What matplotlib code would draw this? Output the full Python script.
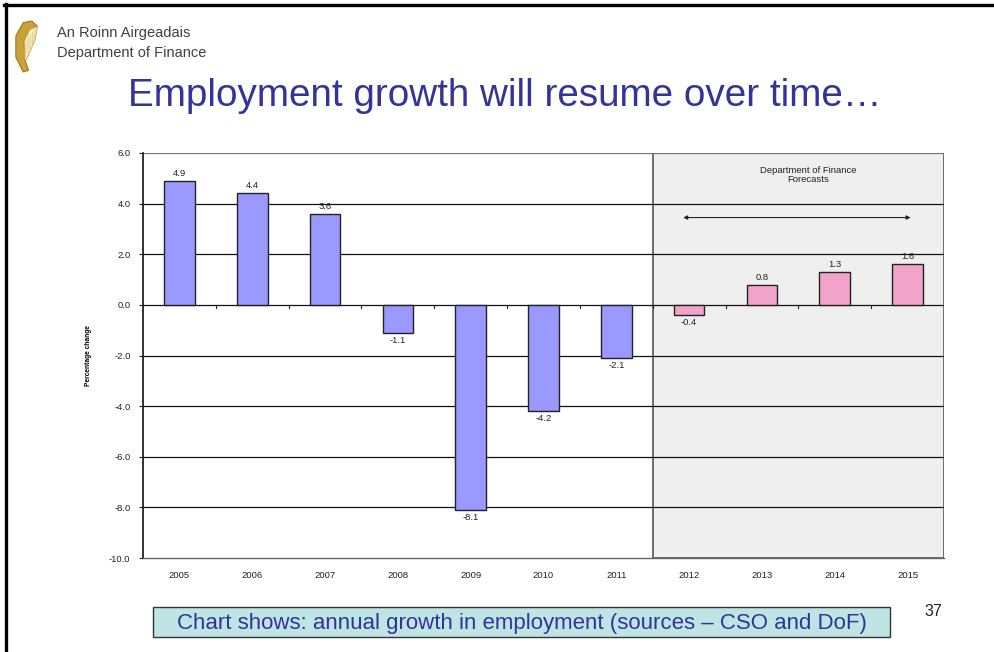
import matplotlib
matplotlib.use("Agg")
import matplotlib.pyplot as plt
from matplotlib.patches import Rectangle, FancyBboxPatch, Polygon
from matplotlib.lines import Line2D

years = ["2005", "2006", "2007", "2008", "2009", "2010", "2011",
         "2012", "2013", "2014", "2015"]
growth = [4.9, 4.4, 3.6, -1.1, -8.1, -4.2, -2.1, -0.4, 0.8, 1.3, 1.6]
is_forecast = [False] * 7 + [True] * 4
y_ticks = [6.0, 4.0, 2.0, 0.0, -2.0, -4.0, -6.0, -8.0, -10.0]

ACTUAL = "#9999ff"
FORECAST = "#f2a3c9"
NAVY = "#333399"
FONT = ["Liberation Sans", "DejaVu Sans"]
NARROW = ["Liberation Sans Narrow", "Liberation Sans", "DejaVu Sans"]

W, H = 995, 652
fig = plt.figure(figsize=(W / 100, H / 100), dpi=100)
fig.patch.set_facecolor("white")

def fx(px):
    return px / W

def fy(py):
    return 1 - py / H

# slide frame (top and left rules)
fig.add_artist(Line2D([fx(4), 1], [fy(4.5), fy(4.5)], color="black", lw=2.4))
fig.add_artist(Line2D([fx(5.5), fx(5.5)], [fy(4), 0], color="black", lw=2.4))

# harp emblem
harp = fig.add_axes([fx(12), fy(73), fx(44) - fx(12), fy(20) - fy(73)])
harp.set_xlim(0, 1)
harp.set_ylim(0, 1)
harp.axis("off")
harp.add_patch(Polygon([[0.35, 0.02], [0.12, 0.3], [0.12, 0.7], [0.35, 0.95],
                        [0.62, 0.98], [0.8, 0.88], [0.55, 0.82], [0.38, 0.6],
                        [0.4, 0.25], [0.52, 0.05]],
                       closed=True, facecolor="#c9a23a", edgecolor="#9c7a1c", lw=0.8))
harp.add_patch(Polygon([[0.38, 0.6], [0.55, 0.82], [0.8, 0.88], [0.72, 0.62],
                        [0.45, 0.25], [0.4, 0.25]], closed=True, facecolor="#f5ecc8",
                       edgecolor="#c9a23a", lw=0.6))
for k in range(5):
    x0 = 0.42 + k * 0.07
    harp.plot([x0, x0 + 0.02], [0.3 + k * 0.08, 0.62 + k * 0.05],
              color="#d9c27a", lw=0.5)
fig.text(fx(57), fy(33), "An Roinn Airgeadais", fontsize=10.5, color="#404040",
         family=NARROW, va="center", ha="left")
fig.text(fx(57), fy(53), "Department of Finance", fontsize=10.5, color="#404040",
         family=NARROW, va="center", ha="left")

# slide title
fig.text(fx(505), fy(96), "Employment growth will resume over time\u2026",
         fontsize=27.8, color=NAVY, family=FONT, ha="center", va="center")

# chart
ax = fig.add_axes([fx(143), fy(558), fx(944) - fx(143), fy(153) - fy(558)])
n = len(years)
xs = list(range(n))
ax.set_xlim(-0.5, n - 0.5)
ax.set_ylim(-10, 6)

first_fc = is_forecast.index(True)
ax.add_patch(Rectangle((first_fc - 0.5, -10), n - first_fc, 16,
                       facecolor="#efefef", edgecolor="#555555", lw=1.2,
                       zorder=0.5))

for t in y_ticks:
    if t in (6.0, -10.0):
        continue
    ax.axhline(t, color="#111111", lw=0.9, zorder=1)
ax.axhline(6.0, color="#777777", lw=0.9, zorder=1)

colors = [FORECAST if f else ACTUAL for f in is_forecast]
ax.bar(xs, growth, width=0.42, color=colors, edgecolor="#222222", lw=1.0,
       zorder=3)

for x, v in zip(xs, growth):
    off = 0.12 if v >= 0 else -0.12
    ax.text(x, v + off, f"{v:.1f}", fontsize=6.8, color="#222222", family=FONT,
            ha="center", va="bottom" if v >= 0 else "top", zorder=4)

# category boundary ticks on the zero line
for b in range(1, n):
    ax.plot([b - 0.5, b - 0.5], [0, -0.12], color="#222222", lw=0.8, zorder=2)

# forecast annotation
ax.annotate("", xy=(10.08, 3.45), xytext=(6.88, 3.45),
            arrowprops=dict(arrowstyle="<|-|>", color="#222222", lw=0.8,
                            mutation_scale=6), zorder=4)
ax.text(8.63, 5.15, "Department of Finance\nForecasts", fontsize=6.8,
        color="#222222", family=FONT, ha="center", va="center",
        linespacing=1.0, zorder=4)

ax.set_yticks(y_ticks)
ax.set_yticklabels([f"{t:.1f}" for t in y_ticks], fontsize=6.8, family=FONT,
                   color="#222222")
ax.set_xticks(xs)
ax.set_xticklabels(years, fontsize=6.8, family=FONT, color="#222222")
ax.tick_params(axis="x", length=0, pad=9)
ax.tick_params(axis="y", length=3, width=0.8, pad=6, colors="#222222")
for side in ("top", "right"):
    ax.spines[side].set_visible(False)
ax.spines["left"].set_color("#111111")
ax.spines["left"].set_linewidth(1.2)
ax.spines["bottom"].set_color("#666666")
ax.spines["bottom"].set_linewidth(1.0)
ax.set_facecolor("white")
ax.set_ylabel("Percentage change", fontsize=4.8, fontweight="bold",
              family=NARROW, labelpad=12)

# caption box
fig.add_artist(FancyBboxPatch((fx(153), fy(637)), fx(890) - fx(153),
                              fy(607) - fy(637), boxstyle="square,pad=0",
                              facecolor="#bfe4e4", edgecolor="#333333", lw=1.0,
                              transform=fig.transFigure))
fig.text(fx(522), fy(623), "Chart shows: annual growth in employment (sources \u2013 CSO and DoF)",
         fontsize=16, color=NAVY, family=FONT, ha="center", va="center")
fig.text(fx(933), fy(611), "37", fontsize=11.5, color="#222222", family=FONT,
         ha="center", va="center")

fig.savefig("out.png", dpi=100)
